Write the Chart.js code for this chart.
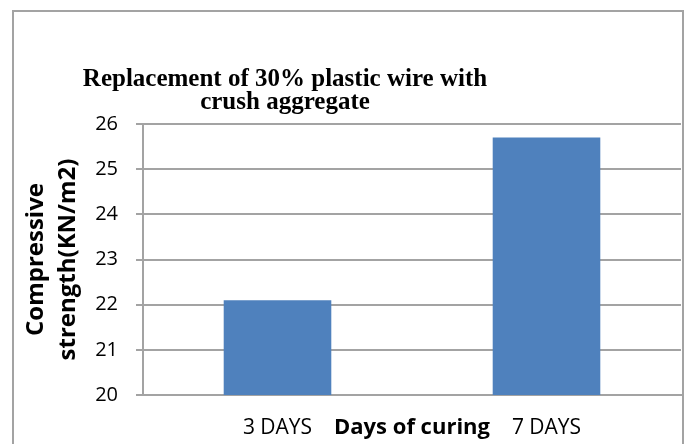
<!DOCTYPE html>
<html>
<head>
<meta charset="utf-8">
<script src="https://cdn.jsdelivr.net/npm/chart.js@4"></script>
<style>
  html, body { margin: 0; padding: 0; background: #fff; }
  #wrap { position: relative; width: 687px; height: 444px; overflow: hidden; }
  #frame {
    position: absolute; left: 12px; top: 10px; width: 668px; height: 460px;
    border: 2px solid #a3a3a3; pointer-events: none;
  }
</style>
</head>
<body>
<div id="wrap">
  <canvas id="chart" width="687" height="444"></canvas>
  <div id="frame"></div>
</div>
<script>
const titleLines = ['Replacement of 30% plastic wire with', 'crush aggregate'];
const categories = ['3 DAYS', '7 DAYS'];
const strength = [22.1, 25.7];
const yTitle = ['Compressive', 'strength(KN/m2)'];
const xTitle = 'Days of curing';
const yMin = 20, yMax = 26, yStep = 1;

// title is drawn by hand so it can sit left of centre like the original
const titlePlugin = {
  id: 'sheetTitles',
  afterDraw(chart) {
    const ctx = chart.ctx;
    ctx.save();
    ctx.fillStyle = '#000';
    ctx.textAlign = 'center';
    ctx.textBaseline = 'alphabetic';
    ctx.font = 'bold 25px "Liberation Serif"';
    const cx = 285;
    titleLines.forEach((t, i) => ctx.fillText(t, cx, 86 + i * 23));

    // x axis title sits on the same row as the category labels
    const x = chart.scales.x;
    ctx.font = 'bold 22px "Open Sans"';
    ctx.textBaseline = 'middle';
    ctx.fillText(xTitle, (chart.chartArea.left + chart.chartArea.right) / 2, x.top + 20 + 13);
    ctx.restore();
  }
};

new Chart(document.getElementById('chart'), {
  type: 'bar',
  data: {
    labels: categories,
    datasets: [{
      data: strength,
      backgroundColor: '#4f81bd',
      categoryPercentage: 1,
      barPercentage: 0.4
    }]
  },
  options: {
    responsive: false,
    animation: false,
    layout: { padding: { left: 16, right: 6, top: 124, bottom: 0 } },
    plugins: {
      legend: { display: false },
      title: { display: false },
      tooltip: { enabled: false }
    },
    scales: {
      x: {
        grid: { display: false, drawTicks: false },
        border: { display: true, color: '#a3a3a3', width: 2 },
        ticks: { color: '#000', padding: 20, font: { family: 'Open Sans', size: 21 } },
        afterFit(s) {
          s.height = 49;
          s.paddingLeft = 0;
          s.paddingRight = 0;
        }
      },
      y: {
        min: yMin,
        max: yMax,
        ticks: { stepSize: yStep, color: '#000', padding: 18, font: { family: 'Open Sans', size: 20 } },
        grid: { color: '#a3a3a3', lineWidth: 2, tickLength: 7, drawTicks: true },
        border: { display: true, color: '#a3a3a3', width: 2 },
        title: {
          display: true,
          text: yTitle,
          color: '#000',
          padding: { top: 5, bottom: 0 },
          font: { family: 'Open Sans', size: 24, weight: 'bold', lineHeight: 1.3 }
        },
        afterFit(s) {
          s.width = 127;
        }
      }
    }
  },
  plugins: [titlePlugin]
});
</script>
</body>
</html>
